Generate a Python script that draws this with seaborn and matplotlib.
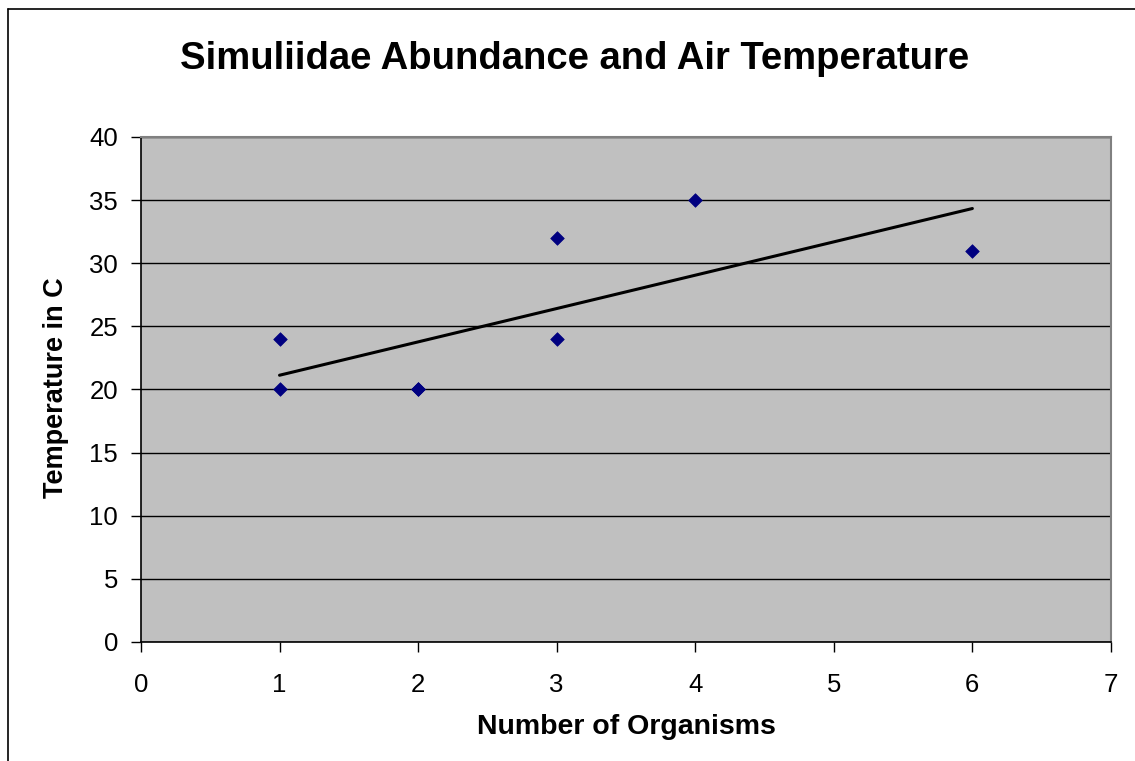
import matplotlib
matplotlib.use('Agg')
import matplotlib.pyplot as plt
from matplotlib.lines import Line2D
import seaborn as sns
import pandas as pd

sns.set_style('white')
plt.rcParams['font.family'] = ['Liberation Sans', 'DejaVu Sans']
plt.rcParams['text.color'] = 'black'
plt.rcParams['axes.labelcolor'] = 'black'
plt.rcParams['xtick.color'] = 'black'
plt.rcParams['ytick.color'] = 'black'

# organisms counted vs air temperature (two samples overlap at 2, 20)
organisms = [1, 1, 2, 2, 3, 3, 4, 6]
temperature = [24, 20, 20, 20, 32, 24, 35, 31]

x_ticks = [0, 1, 2, 3, 4, 5, 6, 7]
y_ticks = [0, 5, 10, 15, 20, 25, 30, 35, 40]

df = pd.DataFrame({'organisms': organisms, 'temperature': temperature})

fig = plt.figure(figsize=(11.35, 7.61), dpi=100)
ax = fig.add_axes([0.1242, 0.1564, 0.8546, 0.6636])
ax.set_facecolor('#c0c0c0')

sns.regplot(data=df, x='organisms', y='temperature', ax=ax, ci=None,
            scatter=False, truncate=True,
            line_kws={'color': 'black', 'linewidth': 2.2, 'zorder': 3})
sns.scatterplot(data=df, x='organisms', y='temperature', ax=ax,
                marker='D', s=48, color='#000080', edgecolor='#000080',
                linewidth=0.5, zorder=4)

ax.set_xlim(0, 7)
ax.set_ylim(0, 40)
ax.set_xticks(x_ticks)
ax.set_yticks(y_ticks)
ax.yaxis.grid(True, color='black', linewidth=1)
ax.xaxis.grid(False)
ax.set_axisbelow(True)
ax.tick_params(axis='both', direction='out', length=7, width=1, color='black',
               labelsize=18.5, labelcolor='black', bottom=True, left=True)
ax.tick_params(axis='x', pad=15)
ax.tick_params(axis='y', pad=9.5)

for side in ['top', 'right']:
    ax.spines[side].set_color('#808080')
    ax.spines[side].set_linewidth(1.5)
for side in ['left', 'bottom']:
    ax.spines[side].set_color('black')
    ax.spines[side].set_linewidth(1.2)

ax.set_xlabel('Number of Organisms', fontsize=20.5, fontweight='bold', color='black')
ax.set_ylabel('Temperature in C', fontsize=19.5, fontweight='bold', color='black')
ax.xaxis.set_label_coords(0.5, -0.143)
ax.yaxis.set_label_coords(-0.074, 0.504)
fig.text(0.5066, 0.923, 'Simuliidae Abundance and Air Temperature',
         ha='center', va='center', fontsize=27.5, fontweight='bold', color='black')

# chart frame (left and top edges visible)
fig.add_artist(Line2D([8 / 1135, 8 / 1135], [0, 1 - 9 / 761], color='black',
                      linewidth=1.2, transform=fig.transFigure))
fig.add_artist(Line2D([8 / 1135, 1], [1 - 9 / 761, 1 - 9 / 761], color='black',
                      linewidth=1.2, transform=fig.transFigure))

fig.savefig('out.png', dpi=100)
